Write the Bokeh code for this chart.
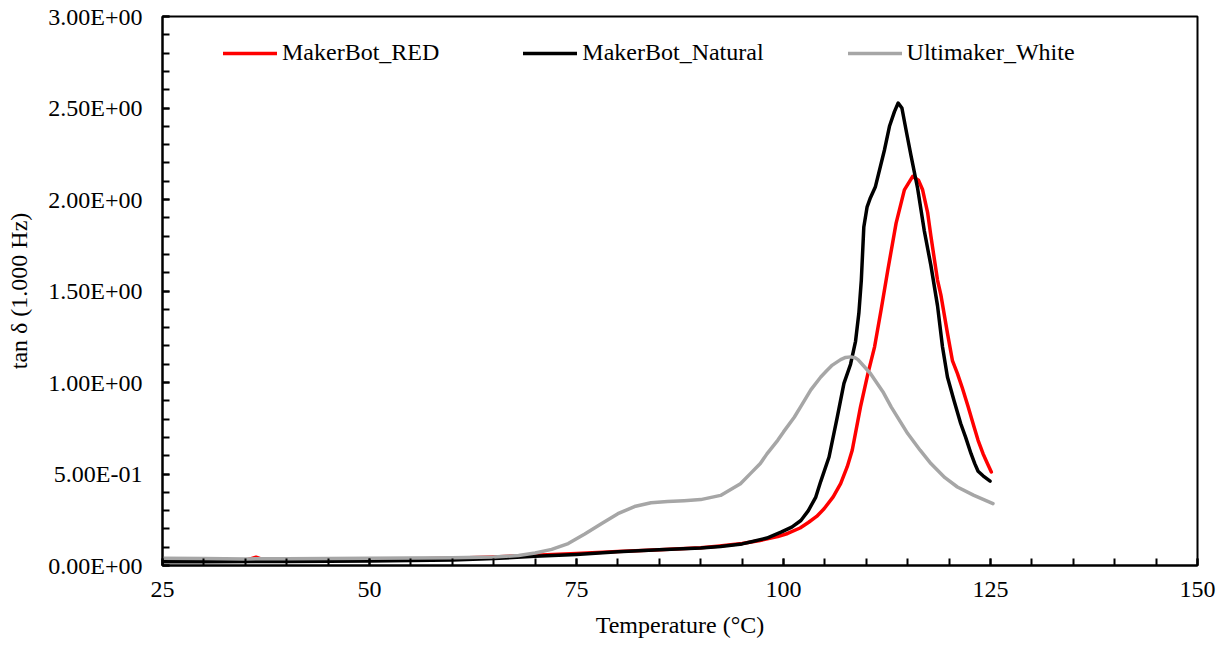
from bokeh.plotting import figure
from bokeh.models import (FixedTicker, CustomJSTickFormatter, Legend, LegendItem, Range1d)
from bokeh.embed import file_html
from bokeh.resources import INLINE

# ---- data ----
red_T = [25, 30, 35, 36.3, 37.5, 40, 45, 50, 55, 60, 65, 70, 75, 80, 85, 90, 92, 95, 97,
         99.3, 100.5, 102, 103, 104, 104.9, 106, 106.9, 107.7, 108.3, 109.3, 110.2, 111.0,
         111.8, 112.6, 113.6, 114.6, 115.6, 116.3, 116.8, 117.4, 117.8, 118.6, 119.0, 119.8,
         120.4, 121.0, 121.6, 122.3, 123.0, 123.5, 124.1, 124.6, 125.1]
red_v = [0.025, 0.026, 0.028, 0.045, 0.027, 0.028, 0.030, 0.033, 0.036, 0.040, 0.047, 0.056,
         0.066, 0.076, 0.086, 0.097, 0.105, 0.120, 0.135, 0.158, 0.175, 0.205, 0.235, 0.268,
         0.310, 0.375, 0.447, 0.540, 0.630, 0.867, 1.050, 1.195, 1.400, 1.615, 1.871, 2.053,
         2.126, 2.105, 2.053, 1.930, 1.800, 1.560, 1.480, 1.270, 1.120, 1.050, 0.970, 0.867,
         0.760, 0.684, 0.611, 0.560, 0.511]

nat_T = [25, 30, 40, 50, 60, 65, 70, 75, 80, 85, 90, 92.4, 95, 96, 98, 99.7, 101, 102.1, 103,
         103.9, 104.5, 105.5, 106.5, 107.3, 108.1, 108.7, 109.1, 109.4, 109.7, 110.1, 110.5,
         111.1, 112.2, 112.8, 113.4, 113.85, 114.3, 114.8, 115.4, 116.2, 117.0, 117.8, 118.6,
         119.2, 119.8, 120.6, 121.4, 122.0, 122.65, 123.1, 123.5, 124.1, 124.95]
nat_v = [0.020, 0.020, 0.022, 0.025, 0.030, 0.038, 0.050, 0.060, 0.075, 0.086, 0.096, 0.104,
         0.118, 0.128, 0.150, 0.182, 0.210, 0.246, 0.300, 0.374, 0.460, 0.593, 0.812, 0.995,
         1.100, 1.225, 1.378, 1.560, 1.850, 1.960, 2.010, 2.070, 2.272, 2.400, 2.480, 2.527,
         2.500, 2.380, 2.240, 2.060, 1.830, 1.640, 1.420, 1.195, 1.030, 0.900, 0.776, 0.700,
         0.611, 0.557, 0.515, 0.490, 0.461]

ult_T = [25, 30, 35, 40, 45, 50, 55, 60, 65, 68, 70, 72, 74, 76, 78, 80, 82, 84, 86, 88, 90,
         92.4, 94.8, 96, 97.2, 98, 99.3, 100, 101.3, 102.1, 103.3, 104.5, 105.3, 105.9, 106.9,
         107.5, 108.1, 108.6, 109, 110.5, 112, 113, 115, 116.5, 117.8, 119.5, 121, 123, 125.3]
ult_v = [0.040, 0.038, 0.036, 0.037, 0.038, 0.040, 0.041, 0.043, 0.046, 0.055, 0.068, 0.088,
         0.120, 0.172, 0.228, 0.283, 0.322, 0.343, 0.350, 0.354, 0.360, 0.383, 0.447, 0.502,
         0.557, 0.610, 0.684, 0.730, 0.810, 0.870, 0.960, 1.030, 1.068, 1.095, 1.125, 1.137,
         1.140, 1.136, 1.125, 1.049, 0.950, 0.867, 0.721, 0.630, 0.557, 0.480, 0.429, 0.383,
         0.338]

x_ticks = [25, 50, 75, 100, 125, 150]
y_ticks = [0.0, 0.5, 1.0, 1.5, 2.0, 2.5, 3.0]

series_names = ["MakerBot_RED", "MakerBot_Natural", "Ultimaker_White"]
series_colors = ["#FF0000", "#000000", "#A6A6A6"]

FONT = "'Liberation Serif', 'Times New Roman', serif"
FS = "24px"

p = figure(width=1222, height=647, output_backend="svg", toolbar_location=None,
           x_range=Range1d(25, 150), y_range=Range1d(0, 3.0),
           min_border_left=162, min_border_right=25, min_border_top=16, min_border_bottom=82)
p.xgrid.visible = False
p.ygrid.visible = False
p.outline_line_color = "black"
p.outline_line_width = 2
p.background_fill_color = "white"
p.border_fill_color = "white"

rends = []
for T, v, c in zip([red_T, nat_T, ult_T], [red_v, nat_v, ult_v], series_colors):
    r = p.line(T, v, line_color=c, line_width=3.5, line_join="round", line_cap="round")
    rends.append(r)

# axes
xa = p.xaxis[0]
xa.ticker = FixedTicker(ticks=x_ticks, minor_ticks=list(range(25, 151, 5)))
ya = p.yaxis[0]
ya.ticker = FixedTicker(ticks=y_ticks, minor_ticks=[i / 10 for i in range(0, 31)])
ya.formatter = CustomJSTickFormatter(code="""
const s = tick.toExponential(2);
const parts = s.split('e');
const e = parts[1];
const sign = e[0];
const d = e.slice(1).padStart(2, '0');
return parts[0] + 'E' + sign + d;
""")
for ax in (xa, ya):
    ax.axis_line_color = "black"
    ax.axis_line_width = 2
    ax.major_tick_in = 7
    ax.major_tick_out = 0
    ax.minor_tick_in = 7
    ax.minor_tick_out = 0
    ax.major_tick_line_width = 2
    ax.minor_tick_line_width = 2
    ax.major_tick_line_color = "black"
    ax.minor_tick_line_color = "black"
    ax.major_label_text_font = FONT
    ax.major_label_text_font_size = FS
    ax.major_label_text_color = "black"
    ax.axis_label_text_font = FONT
    ax.axis_label_text_font_size = FS
    ax.axis_label_text_font_style = "normal"
    ax.axis_label_text_color = "black"

xa.axis_label = "Temperature (°C)"
xa.major_label_standoff = 16
xa.axis_label_standoff = 12
ya.axis_label = "tan δ (1.000 Hz)"
ya.major_label_standoff = 20
ya.axis_label_standoff = 13

legend = Legend(items=[LegendItem(label=n, renderers=[r]) for n, r in zip(series_names, rends)],
                orientation="horizontal", location=(61, 499))
legend.border_line_alpha = 0
legend.background_fill_alpha = 0
legend.label_text_font = FONT
legend.label_text_font_size = FS
legend.label_text_color = "black"
legend.glyph_width = 54
legend.glyph_height = 20
legend.label_height = 20
legend.label_standoff = 5
legend.spacing = 84
legend.padding = 0
legend.margin = 0
p.add_layout(legend, "center")

open("out.html", "w").write(file_html(p, INLINE))
